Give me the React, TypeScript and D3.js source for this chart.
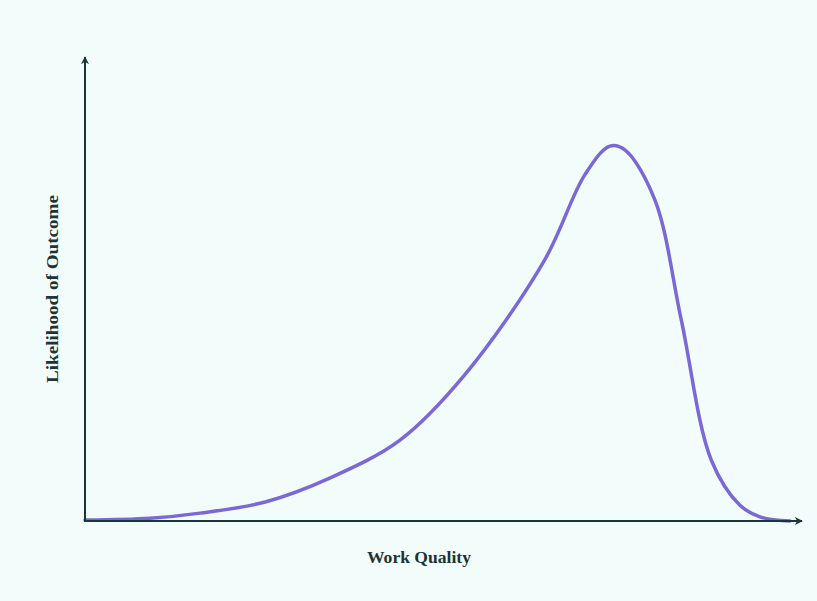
import React from "react";
import * as d3 from "d3";

const qualityX = [0, 9.1, 16.1, 25.2, 34.3, 44.1, 53.1, 64.3, 69.9, 73.4, 75.5, 79.7, 83.4, 87.6, 91.6, 94.4, 98.6];
const likelihoodY = [0.2, 0.6, 1.7, 4.1, 9.3, 17.5, 31.5, 56.3, 74.6, 80.8, 80.0, 69.2, 43.3, 13.1, 3.4, 0.9, 0];
const xLabel = "Work Quality";
const yLabel = "Likelihood of Outcome";

const W = 817;
const H = 601;
const x0 = 85, x1 = 800, y0 = 521, y1 = 57;

export default function App() {
  const x = d3.scaleLinear().domain([0, 100]).range([x0, x1]);
  const y = d3.scaleLinear().domain([0, 100]).range([y0, y1]);
  const pts = qualityX.map((v, i) => [v, likelihoodY[i]] as [number, number]);
  const line = d3.line<[number, number]>().x(d => x(d[0])).y(d => y(d[1])).curve(d3.curveCatmullRom.alpha(0.5));
  const axisColor = "#17373a";
  return (
    <div style={{ position: "fixed", left: 0, top: 0, width: W, height: H }}>
      <svg width={W} height={H} style={{ display: "block" }}>
        <rect width={W} height={H} fill="#f2fdfb" />
        <defs>
          <marker id="arr" viewBox="0 0 10 10" refX="9" refY="5" markerWidth="8" markerHeight="8" orient="auto" markerUnits="userSpaceOnUse">
            <path d="M0,0 L10,5 L0,10 L3,5 Z" fill={axisColor} />
          </marker>
        </defs>
        <path d={line(pts) || ""} fill="none" stroke="#7b68d8" strokeWidth={3.5} strokeLinejoin="round" strokeLinecap="round" />
        <line x1={x(0)} y1={y(0)} x2={x(100) + 2} y2={y(0)} stroke={axisColor} strokeWidth={2} markerEnd="url(#arr)" />
        <line x1={x(0)} y1={y(0) + 1} x2={x(0)} y2={y(100)} stroke={axisColor} strokeWidth={2} markerEnd="url(#arr)" />
        <text x={419} y={563} textAnchor="middle" textLength={104} lengthAdjust="spacingAndGlyphs" fontFamily="'Liberation Serif', 'DejaVu Serif', serif" fontWeight="bold" fontSize={17} fill="#1d3334">{xLabel}</text>
        <text transform={`translate(58,289) rotate(-90)`} textAnchor="middle" textLength={188} lengthAdjust="spacingAndGlyphs" fontFamily="'Liberation Serif', 'DejaVu Serif', serif" fontWeight="bold" fontSize={17} fill="#1d3334">{yLabel}</text>
      </svg>
    </div>
  );
}
